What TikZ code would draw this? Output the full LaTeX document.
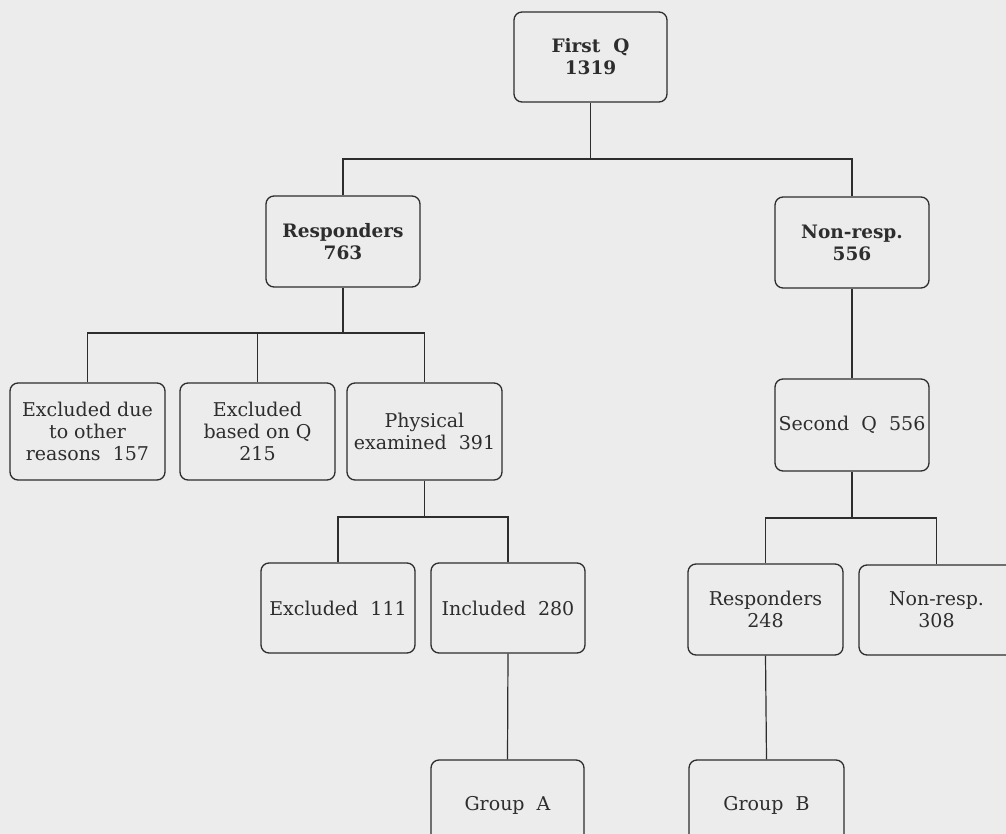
\documentclass[tikz,border=0pt]{standalone}
\usepackage{fontspec}
\setmainfont{DejaVu Serif}
\definecolor{bgcol}{RGB}{236,236,236}
\definecolor{inkcol}{RGB}{45,45,45}
\tikzset{
  box/.style={draw=inkcol, line width=1.3pt, rounded corners=8pt, rectangle,
    minimum width=154pt, minimum height=91pt, inner sep=0pt, align=center,
    text=inkcol, font=\fontsize{19}{22}\selectfont},
  boldbox/.style={box, font=\fontsize{18.5}{22}\selectfont\bfseries},
  link/.style={draw=inkcol, line width=1.2pt}
}
\begin{document}
\begin{tikzpicture}[x=1pt,y=-1pt]
\useasboundingbox (0,0) rectangle (1006,834);
\fill[bgcol] (0,0) rectangle (1006,834);
\clip (0,0) rectangle (1006,834);
% nodes
\node[boldbox, minimum width=153pt, minimum height=90pt] (firstq) at (590.5,57) {First\ \ Q\\1319};
\node[boldbox] (resp) at (343,241.5) {Responders\\763};
\node[boldbox] (nonresp) at (852,242.5) {Non-resp.\\556};
\node[box, minimum width=155pt, minimum height=97pt] (excla) at (87.5,431.5) {Excluded due\\to other\\reasons\ \ 157};
\node[box, minimum width=155pt, minimum height=97pt] (exclb) at (257.5,431.5) {Excluded\\based on Q\\215};
\node[box, minimum width=155pt, minimum height=97pt] (phys) at (424.5,431.5) {Physical\\examined\ \ 391};
\node[box, minimum height=92pt] (secq) at (852,425) {Second\ \ Q\ \ 556};
\node[box, minimum height=90pt] (exclc) at (338,608) {Excluded\ \ 111};
\node[box, minimum height=90pt] (incl) at (508,608) {Included\ \ 280};
\node[box, minimum width=155pt, minimum height=91pt] (respb) at (765.5,609.5) {Responders\\248};
\node[box, minimum width=155pt, minimum height=90pt] (nonrespb) at (936.5,610) {Non-resp.\\308};
\node[box, minimum width=153pt, minimum height=90pt] (grpa) at (507.5,805) {Group\ \ A};
\node[box, minimum width=155pt, minimum height=90pt] (grpb) at (766.5,805) {Group\ \ B};
% bus coordinates
\coordinate (b1) at (590.5,159);
\coordinate (b2) at (343,333);
\coordinate (b3) at (424.5,517);
\coordinate (b4) at (852,518);
% connectors
\draw[link] (firstq.south) -- (b1);
\draw[link] (resp.north) |- (b1) -| (nonresp.north);
\draw[link] (resp.south) -- (b2);
\draw[link] (excla.north) |- (b2) -| (phys.north);
\draw[link] (exclb.north) -- (exclb.north |- b2);
\draw[link] (phys.south) -- (b3);
\draw[link] (exclc.north) |- (b3) -| (incl.north);
\draw[link] (nonresp.south) -- (secq.north);
\draw[link] (secq.south) -- (b4);
\draw[link] (respb.north) |- (b4) -| (nonrespb.north);
\draw[link] (incl.south) -- (grpa.north);
\draw[link] (respb.south) -- (grpb.north);
\end{tikzpicture}
\end{document}
